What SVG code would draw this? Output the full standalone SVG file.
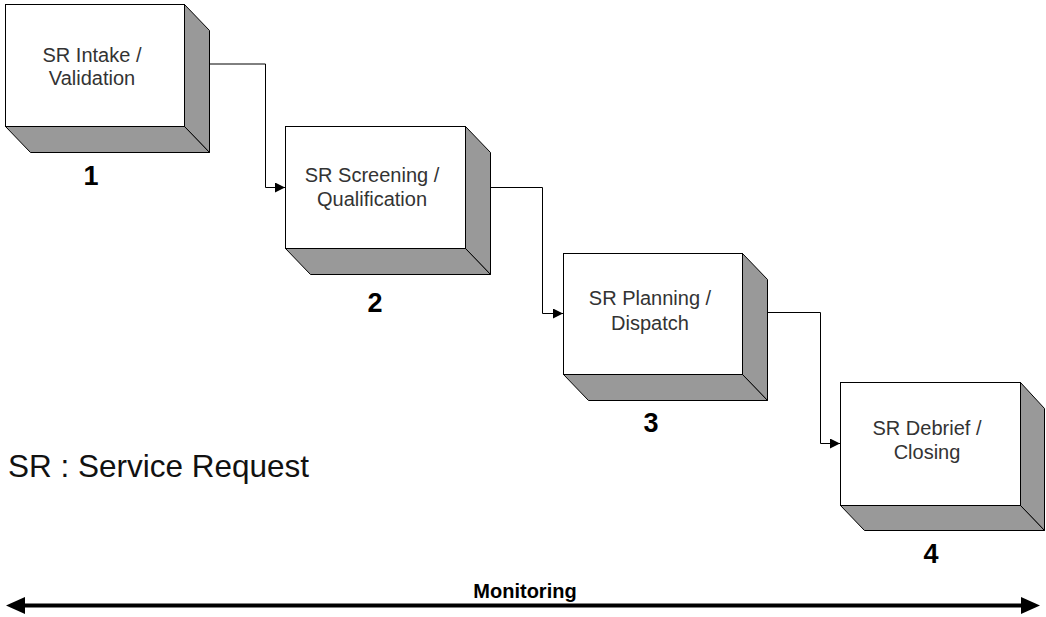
<svg xmlns="http://www.w3.org/2000/svg" width="1046" height="617" viewBox="0 0 1046 617">
<style>
.front{fill:#ffffff;stroke:#000;stroke-width:1}
.shade{fill:#999999;stroke:#000;stroke-width:1;stroke-linejoin:miter}
.lbl{font-family:"Liberation Sans",Arial,sans-serif;font-size:20px;fill:#333;text-anchor:middle}
.num{font-family:"Liberation Sans",Arial,sans-serif;font-size:27px;font-weight:bold;fill:#000;text-anchor:middle}
.conn{fill:none;stroke:#000;stroke-width:1}
</style>
<defs>
<marker id="ah" markerUnits="userSpaceOnUse" markerWidth="12" markerHeight="12" refX="10" refY="5" orient="auto"><path d="M0,0 L10,5 L0,10 Z" fill="#000"/></marker>
</defs>
<rect width="1046" height="617" fill="#fff"/>
<g id="connectors">
<path class="conn" d="M184,64 H265.5 V187.5 H285" marker-end="url(#ah)"/>
<path class="conn" d="M465,187.5 H542.5 V313.5 H563" marker-end="url(#ah)"/>
<path class="conn" d="M742,312.5 H820.5 V443.5 H840" marker-end="url(#ah)"/>
</g>
<g id="node1">
<polygon class="shade" points="184.5,4.5 209.5,30.5 209.5,152.5 184.5,126.5"/>
<polygon class="shade" points="5.5,126.5 184.5,126.5 209.5,152.5 30.5,152.5"/>
<rect class="front" x="5.5" y="4.5" width="179" height="122"/>
<text class="lbl" x="92" y="62">SR Intake /</text>
<text class="lbl" x="92" y="85">Validation</text>
<text class="num" x="91" y="185">1</text>
</g>
<g id="node2">
<polygon class="shade" points="465.5,126.5 490.5,152.5 490.5,274.5 465.5,248.5"/>
<polygon class="shade" points="285.5,248.5 465.5,248.5 490.5,274.5 310.5,274.5"/>
<rect class="front" x="285.5" y="126.5" width="180" height="122"/>
<text class="lbl" x="372" y="182">SR Screening /</text>
<text class="lbl" x="372" y="206">Qualification</text>
<text class="num" x="375" y="312">2</text>
</g>
<g id="node3">
<polygon class="shade" points="742.5,253.5 767.5,279.5 767.5,400.5 742.5,374.5"/>
<polygon class="shade" points="563.5,374.5 742.5,374.5 767.5,400.5 588.5,400.5"/>
<rect class="front" x="563.5" y="253.5" width="179" height="121"/>
<text class="lbl" x="650" y="305">SR Planning /</text>
<text class="lbl" x="650" y="330">Dispatch</text>
<text class="num" x="651" y="432">3</text>
</g>
<g id="node4">
<polygon class="shade" points="1020.5,382.5 1044.5,408.5 1044.5,530.5 1020.5,505.5"/>
<polygon class="shade" points="840.5,505.5 1020.5,505.5 1044.5,530.5 864.5,530.5"/>
<rect class="front" x="840.5" y="382.5" width="180" height="123"/>
<text class="lbl" x="927" y="435">SR Debrief /</text>
<text class="lbl" x="927" y="459">Closing</text>
<text class="num" x="931" y="563">4</text>
</g>
<text x="8" y="477" font-family="Liberation Sans, Arial, sans-serif" font-size="31.5" fill="#111">SR : Service Request</text>
<g id="monitoring">
<line x1="24" y1="605.5" x2="1022" y2="605.5" stroke="#000" stroke-width="4"/>
<polygon points="6,605.5 25,597 25,614" fill="#000"/>
<polygon points="1040,605.5 1021,597 1021,614" fill="#000"/>
<text x="525" y="598" font-family="Liberation Sans, Arial, sans-serif" font-size="20" font-weight="bold" text-anchor="middle" fill="#000">Monitoring</text>
</g>
</svg>
